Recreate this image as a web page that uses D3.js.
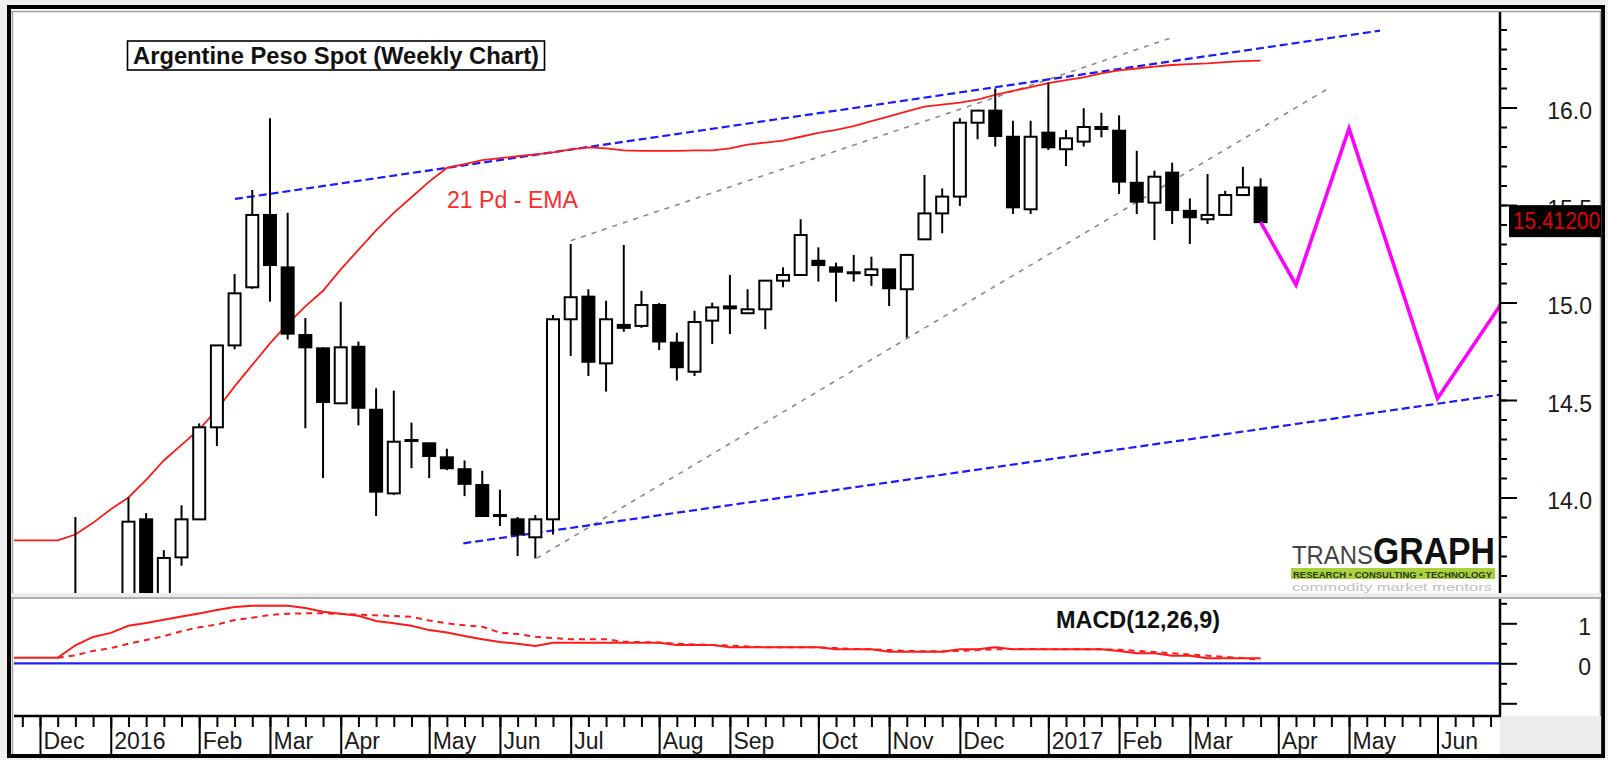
<!DOCTYPE html>
<html>
<head>
<meta charset="utf-8">
<script src="https://d3js.org/d3.v7.min.js"></script>
<style>
  body { margin: 0; background: #efefef; }
  svg { display: block; font-family: "Liberation Sans", Arial, sans-serif; }
</style>
</head>
<body>
<svg id="chart" width="1608" height="760"></svg>
<script>
// weekly bars, week 0 = week ending 4 Dec 2015
const candleStart = 2;
const opens = [9.83, 13.40, 12.95, 13.05, 13.888, 13.45, 13.693, 13.888, 14.36, 14.78,
  15.078, 15.449, 15.18, 14.833, 14.765, 14.483, 14.773, 14.45, 14.021, 14.295,
  14.278, 14.206, 14.145, 14.064, 13.91, 13.888, 13.796, 13.888, 14.914, 15.03,
  14.688, 14.885, 14.88, 14.987, 14.794, 14.645, 14.907, 14.97, 14.945, 14.965,
  15.112, 15.141, 15.214, 15.18, 15.155, 15.141, 15.17, 15.068, 15.324, 15.457,
  15.543, 15.922, 15.984, 15.85, 15.478, 15.871, 15.786, 15.825, 15.89, 15.881,
  15.614, 15.512, 15.666, 15.47, 15.427, 15.449, 15.551, 15.59];
const highs = [13.90, 13.45, 13.10, 14.00, 13.92, 13.73, 13.96, 14.38, 14.78, 15.146,
  15.577, 15.945, 15.46, 14.92, 14.77, 15.004, 14.80, 14.56, 14.548, 14.384,
  14.28, 14.25, 14.19, 14.137, 14.04, 13.90, 13.91, 14.936, 15.30, 15.068,
  15.009, 15.295, 15.06, 14.997, 14.845, 14.958, 14.999, 15.141, 15.068, 15.112,
  15.18, 15.427, 15.283, 15.204, 15.244, 15.235, 15.17, 15.244, 15.654, 15.585,
  15.945, 15.987, 16.098, 15.932, 15.932, 16.127, 15.885, 15.996, 15.973, 15.96,
  15.778, 15.676, 15.717, 15.534, 15.659, 15.573, 15.696, 15.637];
const lows = [9.80, 12.90, 12.90, 13.00, 13.40, 13.40, 13.65, 13.888, 14.264, 14.76,
  15.07, 15.004, 14.81, 14.355, 14.10, 14.48, 14.37, 13.905, 14.013, 14.15,
  14.10, 14.14, 14.007, 13.905, 13.854, 13.70, 13.688, 13.81, 14.726, 14.623,
  14.543, 14.85, 14.87, 14.756, 14.60, 14.623, 14.787, 14.838, 14.94, 14.863,
  15.078, 15.14, 15.107, 15.004, 15.107, 15.085, 14.982, 14.82, 15.32, 15.355,
  15.495, 15.837, 15.80, 15.454, 15.454, 15.782, 15.70, 15.80, 15.847, 15.556,
  15.454, 15.32, 15.403, 15.30, 15.403, 15.449, 15.551, 15.412];
const closes = [13.40, 12.95, 13.05, 13.876, 13.45, 13.69, 13.888, 14.36, 14.78, 15.047,
  15.449, 15.192, 14.84, 14.77, 14.49, 14.77, 14.46, 14.03, 14.286, 14.29,
  14.213, 14.15, 14.07, 13.905, 13.905, 13.81, 13.888, 14.914, 15.027, 14.696,
  14.914, 14.87, 14.987, 14.80, 14.668, 14.90, 14.975, 14.98, 14.965, 15.112,
  15.141, 15.346, 15.192, 15.158, 15.15, 15.17, 15.073, 15.244, 15.457, 15.543,
  15.922, 15.984, 15.854, 15.488, 15.85, 15.796, 15.842, 15.90, 15.90, 15.62,
  15.517, 15.645, 15.474, 15.437, 15.449, 15.551, 15.59, 15.412];

// 21 period EMA, from week -2
const emaStart = -2;
const ema = [13.78, 13.78, 13.78, 13.78, 13.81, 13.87, 13.94, 14.00, 14.09, 14.19,
  14.27, 14.35, 14.45, 14.57, 14.68, 14.79, 14.89, 14.98, 15.06, 15.17,
  15.27, 15.37, 15.46, 15.54, 15.62, 15.69, 15.71, 15.73, 15.74, 15.75,
  15.76, 15.77, 15.785, 15.796, 15.79, 15.78, 15.778, 15.778, 15.778, 15.78,
  15.78, 15.79, 15.81, 15.82, 15.83, 15.85, 15.87, 15.885, 15.905, 15.93,
  15.955, 15.98, 16.005, 16.015, 16.025, 16.04, 16.065, 16.085, 16.105, 16.125,
  16.14, 16.155, 16.175, 16.19, 16.2, 16.21, 16.218, 16.222, 16.226, 16.233,
  16.238, 16.24];

// MACD(12,26,9)
const macdStart = -2;
const macd = [0.14, 0.14, 0.14, 0.14, 0.45, 0.66, 0.76, 0.94, 1.01, 1.09,
  1.17, 1.245, 1.33, 1.41, 1.44, 1.44, 1.44, 1.38, 1.29, 1.24,
  1.19, 1.06, 1.0, 0.94, 0.83, 0.77, 0.68, 0.6, 0.53, 0.49,
  0.43, 0.515, 0.515, 0.515, 0.515, 0.515, 0.515, 0.515, 0.46, 0.46,
  0.46, 0.40, 0.40, 0.40, 0.40, 0.40, 0.40, 0.35, 0.35, 0.35,
  0.29, 0.29, 0.29, 0.29, 0.35, 0.35, 0.40, 0.35, 0.35, 0.35,
  0.35, 0.35, 0.35, 0.31, 0.25, 0.25, 0.19, 0.19, 0.125, 0.125,
  0.125, 0.125];
const signalStart = 1;
const signal = [0.14, 0.2, 0.31, 0.38, 0.49, 0.58, 0.68, 0.80, 0.9, 0.97,
  1.08, 1.14, 1.21, 1.24, 1.25, 1.25, 1.235, 1.215, 1.2, 1.18,
  1.165, 1.07, 1.0, 0.95, 0.915, 0.765, 0.73, 0.665, 0.63, 0.60,
  0.60, 0.60, 0.54, 0.53, 0.52, 0.49, 0.47, 0.46, 0.44, 0.42,
  0.40, 0.40, 0.40, 0.40, 0.38, 0.36, 0.35, 0.33, 0.31, 0.30,
  0.30, 0.31, 0.33, 0.35, 0.36, 0.36, 0.35, 0.35, 0.35, 0.35,
  0.34, 0.31, 0.28, 0.25, 0.22, 0.19, 0.16, 0.13, 0.09];

// projected path (magenta)
const forecastWeeks = [69, 71, 74, 79, 83];
const forecastValues = [15.412, 15.09, 15.893, 14.508, 15.047];

// trend lines [week, value] pairs
const blueLines = [
  [[11.02, 15.531], [75.75, 16.394]],
  [[23.93, 13.765], [83, 14.533]]
];
const grayLines = [
  [[30, 15.317], [63.88, 16.355]],
  [[28.07, 13.688], [72.83, 16.098]]
];

const monthLabels = ["Dec", "2016", "Feb", "Mar", "Apr", "May", "Jun", "Jul", "Aug", "Sep",
  "Oct", "Nov", "Dec", "2017", "Feb", "Mar", "Apr", "May", "Jun"];
const monthWeeks = [0, 4, 9, 13, 17, 22, 26, 30, 35, 39, 44, 48, 52, 57, 61, 65, 70, 74, 79];

const priceMinor = d3.range(136, 165).map(d => d / 10);
const priceMajor = [14, 14.5, 15, 15.5, 16];
const macdMinor = [-0.5, 0.5, 1.5];
const macdMajor = [-1, 0, 1];
const macdLabels = [0, 1];
const lastPrice = "15.41200";

// ---------- layout ----------
const svg = d3.select("#chart");
const plotLeft = 14, axisX = 1500;
const priceTop = 12, priceBottom = 593;
const macdTop = 599, macdBottom = 716;

const x = d3.scaleLinear().domain([0, 79]).range([40, 1437.5]);
const y = d3.scaleLinear().domain([15, 16]).range([302.5, 107.5]);
const ym = d3.scaleLinear().domain([0, 1]).range([663.3, 623.3]);

svg.append("rect").attr("width", 1608).attr("height", 760).attr("fill", "#efefef");
svg.append("rect").attr("x", 9).attr("y", 7).attr("width", 1594).attr("height", 749)
  .attr("fill", "#fff").attr("stroke", "#000").attr("stroke-width", 4);
svg.append("line").attr("x1", 12.5).attr("x2", 12.5).attr("y1", 11).attr("y2", 754)
  .attr("stroke", "#a0a0a0").attr("stroke-width", 1.5);
svg.append("line").attr("x1", 11).attr("x2", 1601).attr("y1", 11.5).attr("y2", 11.5)
  .attr("stroke", "#a0a0a0").attr("stroke-width", 1.5);
svg.append("line").attr("x1", 1600.5).attr("x2", 1600.5).attr("y1", 11).attr("y2", 754)
  .attr("stroke", "#a0a0a0").attr("stroke-width", 1.5);
// separator between panels
svg.append("rect").attr("x", 11).attr("y", priceBottom).attr("width", 1590).attr("height", 6)
  .attr("fill", "#ececec");
svg.append("line").attr("x1", 11).attr("x2", 1601).attr("y1", 598).attr("y2", 598)
  .attr("stroke", "#9a9a9a").attr("stroke-width", 1.5);
svg.append("rect").attr("x", axisX).attr("y", macdBottom).attr("width", 101).attr("height", 38)
  .attr("fill", "#ececec");

const defs = svg.append("defs");
defs.append("clipPath").attr("id", "clipPrice").append("rect")
  .attr("x", plotLeft).attr("y", priceTop).attr("width", axisX - plotLeft).attr("height", priceBottom - priceTop);
defs.append("clipPath").attr("id", "clipMacd").append("rect")
  .attr("x", plotLeft).attr("y", macdTop).attr("width", axisX - plotLeft).attr("height", macdBottom - macdTop - 1);

// ---------- price panel ----------
const price = svg.append("g").attr("clip-path", "url(#clipPrice)");

const trend = d3.line().x(d => x(d[0])).y(d => y(d[1]));
grayLines.forEach(l => price.append("path").attr("d", trend(l)).attr("fill", "none")
  .attr("stroke", "#8a8a8a").attr("stroke-width", 1.6).attr("stroke-dasharray", "5,6"));
blueLines.forEach(l => price.append("path").attr("d", trend(l)).attr("fill", "none")
  .attr("stroke", "#1a1aff").attr("stroke-width", 2.2).attr("stroke-dasharray", "8,4"));

const emaLine = d3.line().x((d, i) => x(i + emaStart)).y(d => y(d));
price.append("path").attr("d", emaLine(ema)).attr("fill", "none")
  .attr("stroke", "#ff1a1a").attr("stroke-width", 1.8);

const candles = opens.map((o, i) => ({ w: i + candleStart, o, h: highs[i], l: lows[i], c: closes[i] }));
const cg = price.selectAll("g.candle").data(candles).join("g").attr("class", "candle");
cg.append("line")
  .attr("x1", d => x(d.w)).attr("x2", d => x(d.w))
  .attr("y1", d => y(d.h)).attr("y2", d => y(d.l))
  .attr("stroke", "#000").attr("stroke-width", 2);
cg.append("rect")
  .attr("x", d => x(d.w) - 6).attr("width", 12)
  .attr("y", d => Math.min(y(d.o), y(d.c)))
  .attr("height", d => Math.max(Math.abs(y(d.o) - y(d.c)), 1))
  .attr("fill", d => d.c >= d.o ? "#fff" : "#000")
  .attr("stroke", "#000").attr("stroke-width", 2);

const fLine = d3.line().x(d => x(d[0])).y(d => y(d[1]));
price.append("path").attr("d", fLine(forecastWeeks.map((w, i) => [w, forecastValues[i]])))
  .attr("fill", "none").attr("stroke", "#ff00ff").attr("stroke-width", 3.6)
  .attr("stroke-linejoin", "miter");

// logo
price.append("text").attr("x", 1292).attr("y", 564).attr("font-size", 25)
  .attr("fill", "#444").attr("textLength", 81).attr("lengthAdjust", "spacingAndGlyphs").text("TRANS");
price.append("text").attr("x", 1373).attr("y", 564).attr("font-size", 37).attr("font-weight", "bold")
  .attr("fill", "#111").attr("textLength", 122).attr("lengthAdjust", "spacingAndGlyphs").text("GRAPH");
price.append("rect").attr("x", 1291).attr("y", 568).attr("width", 204).attr("height", 11).attr("fill", "#a9d23c");
price.append("text").attr("x", 1293).attr("y", 577.5).attr("font-size", 9).attr("font-weight", "bold")
  .attr("fill", "#2c3a12").attr("textLength", 199).attr("lengthAdjust", "spacingAndGlyphs")
  .text("RESEARCH \u2022 CONSULTING \u2022 TECHNOLOGY");
price.append("text").attr("x", 1292).attr("y", 591).attr("font-size", 11)
  .attr("fill", "#c0c0c0").attr("textLength", 200).attr("lengthAdjust", "spacingAndGlyphs")
  .text("commodity market mentors");

// title & annotation
svg.append("rect").attr("x", 127.5).attr("y", 41).attr("width", 417).attr("height", 29)
  .attr("fill", "#fff").attr("stroke", "#000").attr("stroke-width", 1.6);
svg.append("text").attr("x", 133).attr("y", 63.5).attr("font-size", 23).attr("font-weight", "bold")
  .attr("fill", "#111").attr("textLength", 406).attr("lengthAdjust", "spacingAndGlyphs")
  .text("Argentine Peso Spot (Weekly Chart)");
svg.append("text").attr("x", 447).attr("y", 208).attr("font-size", 23).attr("fill", "#ff2a2a")
  .attr("textLength", 131).attr("lengthAdjust", "spacingAndGlyphs").text("21 Pd - EMA");

// price axis
const pMinor = svg.append("g").attr("transform", `translate(${axisX},0)`)
  .call(d3.axisRight(y).tickValues(priceMinor).tickSize(7).tickFormat(""));
const pMajor = svg.append("g").attr("transform", `translate(${axisX},0)`)
  .call(d3.axisRight(y).tickValues(priceMajor).tickSize(17).tickFormat(d3.format(".1f")));
[pMinor, pMajor].forEach(g => {
  g.select(".domain").remove();
  g.selectAll("line").attr("stroke", "#000").attr("stroke-width", 2);
});
pMajor.selectAll("text").attr("x", 92).attr("dy", null).attr("y", 11)
  .attr("text-anchor", "end").attr("font-size", 23).attr("fill", "#1a1a1a")
  .attr("font-family", "'Liberation Sans', Arial, sans-serif");
svg.append("line").attr("x1", axisX).attr("x2", axisX).attr("y1", priceTop).attr("y2", priceBottom)
  .attr("stroke", "#000").attr("stroke-width", 2.5);

// last price marker
svg.append("rect").attr("x", 1509).attr("y", y(15.412) - 17).attr("width", 92).attr("height", 32).attr("fill", "#000");
svg.append("text").attr("x", 1513).attr("y", y(15.412) + 7).attr("font-size", 23).attr("fill", "#e00000")
  .attr("textLength", 87).attr("lengthAdjust", "spacingAndGlyphs").text(lastPrice);

// ---------- MACD panel ----------
const mg = svg.append("g").attr("clip-path", "url(#clipMacd)");
mg.append("line").attr("x1", plotLeft).attr("x2", axisX).attr("y1", ym(0)).attr("y2", ym(0))
  .attr("stroke", "#2020ff").attr("stroke-width", 2.2);
mg.append("path").attr("d", d3.line().x((d, i) => x(i + signalStart)).y(d => ym(d))(signal))
  .attr("fill", "none").attr("stroke", "#ff1a1a").attr("stroke-width", 2).attr("stroke-dasharray", "6,5");
mg.append("path").attr("d", d3.line().x((d, i) => x(i + macdStart)).y(d => ym(d))(macd))
  .attr("fill", "none").attr("stroke", "#ff1a1a").attr("stroke-width", 2);
svg.append("text").attr("x", 1056).attr("y", 627.5).attr("font-size", 23).attr("font-weight", "bold")
  .attr("fill", "#111").attr("textLength", 164).attr("lengthAdjust", "spacingAndGlyphs").text("MACD(12,26,9)");

const mMinor = svg.append("g").attr("transform", `translate(${axisX},0)`)
  .call(d3.axisRight(ym).tickValues(macdMinor).tickSize(7).tickFormat(""));
const mMajor = svg.append("g").attr("transform", `translate(${axisX},0)`)
  .call(d3.axisRight(ym).tickValues(macdMajor).tickSize(17)
    .tickFormat(d => macdLabels.includes(d) ? d3.format("d")(d) : ""));
[mMinor, mMajor].forEach(g => {
  g.select(".domain").remove();
  g.selectAll("line").attr("stroke", "#000").attr("stroke-width", 2);
});
mMajor.selectAll("text").attr("x", 91).attr("dy", null).attr("y", 11.5)
  .attr("text-anchor", "end").attr("font-size", 23).attr("fill", "#1a1a1a")
  .attr("font-family", "'Liberation Sans', Arial, sans-serif");
svg.append("line").attr("x1", axisX).attr("x2", axisX).attr("y1", macdTop).attr("y2", macdBottom)
  .attr("stroke", "#000").attr("stroke-width", 2.5);

// ---------- time axis ----------
const xMinor = svg.append("g").attr("transform", `translate(0,${macdBottom})`)
  .call(d3.axisBottom(x).tickValues(d3.range(-1, 83)).tickSize(11).tickFormat(""));
const xMajor = svg.append("g").attr("transform", `translate(0,${macdBottom})`)
  .call(d3.axisBottom(x).tickValues(monthWeeks).tickSize(39)
    .tickFormat((d, i) => monthLabels[i]));
[xMinor, xMajor].forEach(g => {
  g.select(".domain").remove();
  g.selectAll("line").attr("stroke", "#000").attr("stroke-width", 2);
});
xMajor.selectAll("text").attr("x", 3).attr("dy", null).attr("y", 33)
  .attr("text-anchor", "start").attr("font-size", 23).attr("fill", "#1a1a1a")
  .attr("font-family", "'Liberation Sans', Arial, sans-serif");
svg.append("line").attr("x1", plotLeft).attr("x2", axisX + 1).attr("y1", macdBottom).attr("y2", macdBottom)
  .attr("stroke", "#000").attr("stroke-width", 2.5);
</script>
</body>
</html>
